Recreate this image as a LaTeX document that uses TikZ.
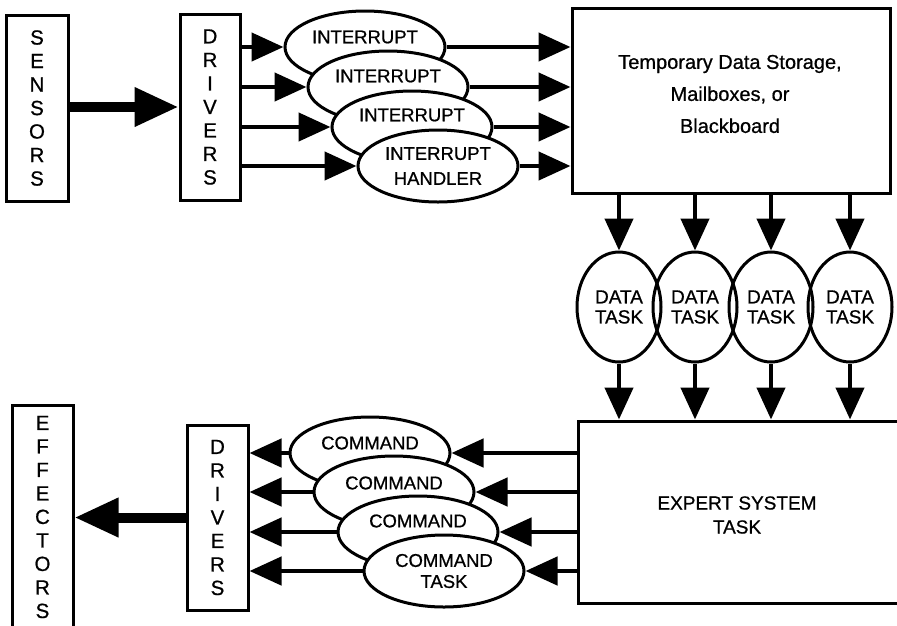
\documentclass[tikz,border=0pt]{standalone}
\usepackage{fontspec}
\setmainfont{Liberation Sans}[FakeBold=0.7]
\usetikzlibrary{shapes.geometric,arrows.meta}
\tikzset{
  lettbox/.style={draw, line width=3pt, align=center, inner sep=0pt,
    font=\fontsize{20.5}{23.5}\selectfont},
  bigbox/.style={draw, line width=3pt, inner sep=0pt},
  txt/.style={align=center, inner sep=0pt},
  oval/.style={ellipse, draw, fill=white, line width=3pt, minimum width=160pt,
    minimum height=72pt, inner sep=0pt, align=center},
  ovaltxt/.style={inner sep=0pt, font=\fontsize{18.5}{21}\selectfont},
  dtask/.style={ellipse, draw, line width=3pt, minimum width=84pt,
    minimum height=110pt, inner sep=0pt, align=center,
    font=\fontsize{19}{20}\selectfont},
  arr/.style={line width=4.5pt, -{Triangle[length=32pt,width=28pt]}},
  thickarr/.style={line width=10pt, -{Triangle[length=44pt,width=37pt]}},
}
\begin{document}
\begin{tikzpicture}[x=1pt,y=-1pt]
\useasboundingbox (0,0) rectangle (897,625);
\clip (0,0) rectangle (897,625);
\fill[white] (0,0) rectangle (897,625);

% boxes
\node[lettbox, minimum width=62pt, minimum height=186pt] (sens) at (37,108) {S\\E\\N\\S\\O\\R\\S};
\node[lettbox, minimum width=60pt, minimum height=186pt] (drvA) at (210,107) {D\\R\\I\\V\\E\\R\\S};
\node[lettbox, minimum width=61pt, minimum height=224pt] (eff) at (42.5,517) {E\\F\\F\\E\\C\\T\\O\\R\\S};
\node[lettbox, minimum width=61pt, minimum height=185pt] (drvB) at (217.5,517.5) {D\\R\\I\\V\\E\\R\\S};
\node[bigbox, minimum width=318pt, minimum height=185pt] (store) at (731,100.5) {};
\node[txt, font=\fontsize{20}{32}\selectfont] (storetxt) at (730,94)
  {Temporary Data Storage,\\Mailboxes, or\\Blackboard};
\node[bigbox, minimum width=322pt, minimum height=182pt] (expert) at (739,512) {};
\node[txt, font=\fontsize{19}{24}\selectfont] (experttxt) at (737,515)
  {EXPERT SYSTEM\\TASK};

% interrupt handlers (back to front)
\node[oval] (int1) at (365,47) {};
\node[oval] (int2) at (388,87) {};
\node[oval] (int3) at (412,127) {};
\node[oval, font=\fontsize{18.5}{25}\selectfont] (int4) at (438,166) {INTERRUPT\\HANDLER};
\node[ovaltxt] (int1t) at (365,37) {INTERRUPT};
\node[ovaltxt] (int2t) at (388,76) {INTERRUPT};
\node[ovaltxt] (int3t) at (412,115) {INTERRUPT};

% command tasks (back to front)
\node[oval] (cmd1) at (370,453) {};
\node[oval] (cmd2) at (394,492) {};
\node[oval] (cmd3) at (418,532) {};
\node[oval, font=\fontsize{18.5}{21}\selectfont] (cmd4) at (444,571) {COMMAND\\TASK};
\node[ovaltxt] (cmd1t) at (370,443) {COMMAND};
\node[ovaltxt] (cmd2t) at (394,483) {COMMAND};
\node[ovaltxt] (cmd3t) at (418,521) {COMMAND};

% data tasks
\node[dtask] (dt1) at (619,307) {DATA\\TASK};
\node[dtask] (dt2) at (695,307) {DATA\\TASK};
\node[dtask] (dt3) at (771,307) {DATA\\TASK};
\node[dtask] (dt4) at (850,307) {DATA\\TASK};

% thick arrows
\draw[thickarr] (sens.east |- drvA.west) -- (drvA.west);
\draw[thickarr] (drvB.west) -- (drvB.west -| eff.east);

% drivers -> interrupt handlers -> storage
\foreach \i in {1,2,3,4}{
  \draw[arr] (drvA.east |- int\i.west) -- (int\i.west);
  \draw[arr] (int\i.east) -- (int\i.east -| store.west);
}
% storage -> data tasks -> expert
\foreach \i in {1,2,3,4}{
  \draw[arr] (dt\i.north |- store.south) -- (dt\i.north);
  \draw[arr] (dt\i.south) -- (dt\i.south |- expert.north);
}
% expert -> command tasks -> drivers
\foreach \i in {1,2,3,4}{
  \draw[arr] (expert.west |- cmd\i.east) -- (cmd\i.east);
  \draw[arr] (cmd\i.west) -- (cmd\i.west -| drvB.east);
}
\end{tikzpicture}
\end{document}
